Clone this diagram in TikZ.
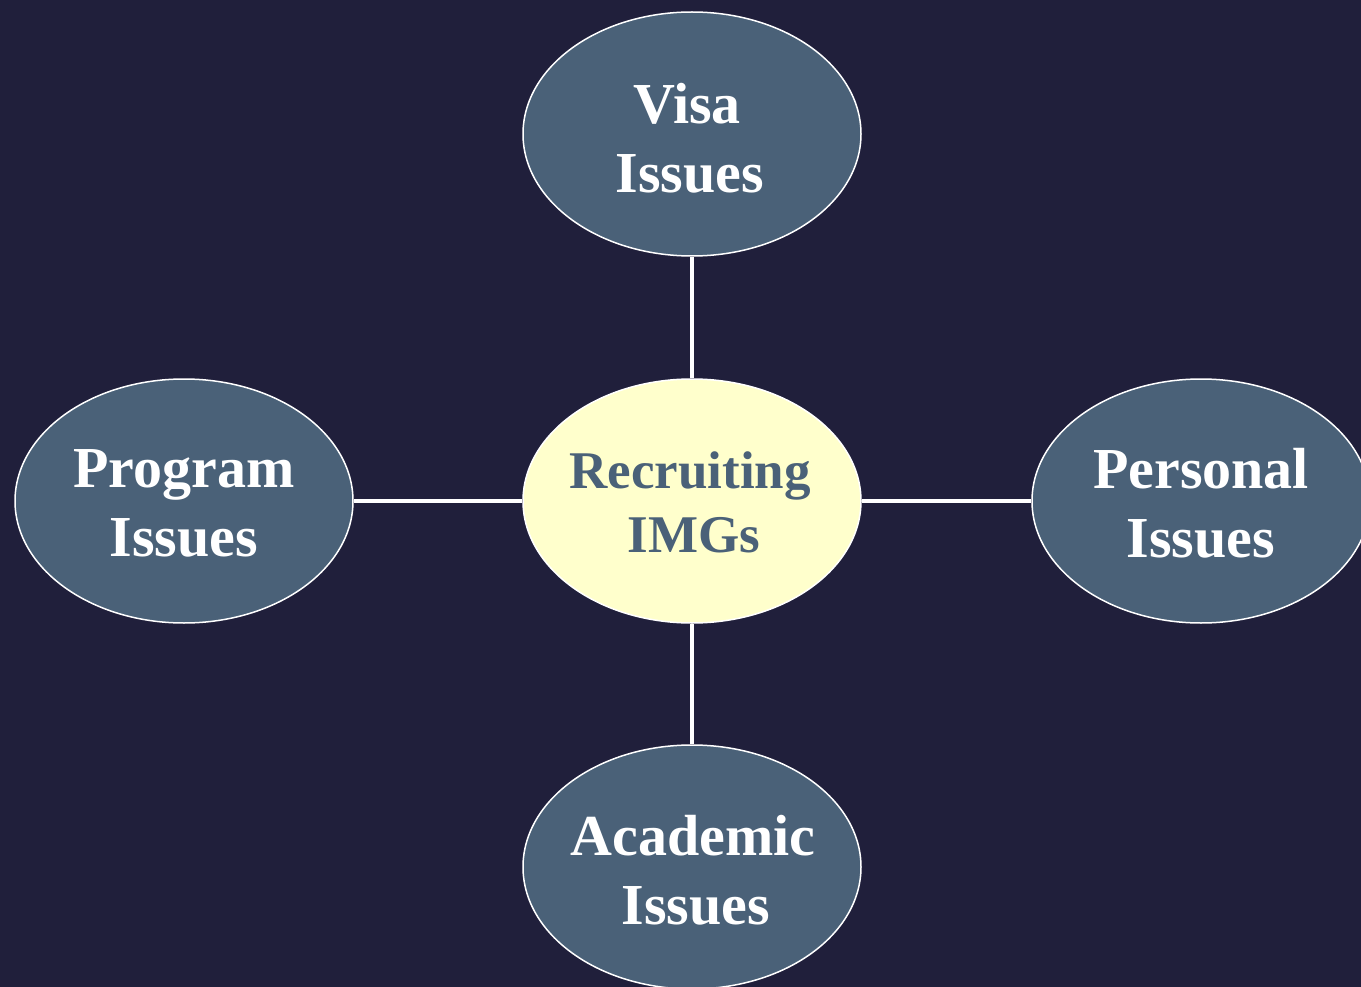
\documentclass[tikz,border=0pt]{standalone}
\usepackage{fontspec}
\setmainfont{Liberation Serif}
\usetikzlibrary{shapes.geometric}
\definecolor{bg}{HTML}{201F3B}
\definecolor{slate}{HTML}{4A6178}
\definecolor{cream}{HTML}{FFFFCC}
\tikzset{
  blob/.style={ellipse, draw=white, line width=1.5pt, fill=slate, minimum width=338pt, minimum height=244pt, inner sep=0pt},
  hub/.style={blob, fill=cream},
  lbl/.style={align=center, font=\fontsize{58}{69}\selectfont\bfseries, text=white},
  hublbl/.style={align=center, font=\fontsize{53}{64}\selectfont\bfseries, text=slate},
  link/.style={draw=white, line width=4.5pt}
}
\begin{document}
\begin{tikzpicture}[x=1pt,y=-1pt]
\useasboundingbox[fill=bg] (0,0) rectangle (1361,987);
\node[hub] (c) at (692,501) {};
\node[blob] (v) at (692,134) {};
\node[blob] (p) at (184,501) {};
\node[blob] (r) at (1201,501) {};
\node[blob] (a) at (692,867) {};
\draw[link] (c) -- (v);
\draw[link] (c) -- (p);
\draw[link] (c) -- (r);
\draw[link] (c) -- (a);
\node[hublbl] (ct) at (690,502) {Recruiting\\\hspace*{8pt}IMGs};
\node[lbl] (vt) at (690,138) {Visa\hspace*{6pt}\\Issues};
\node[lbl] (pt) at (184,503) {Program\\Issues};
\node[lbl] (rt) at (1201,503) {Personal\\Issues};
\node[lbl] (at) at (696,870) {Academic\hspace*{6pt}\\Issues};
\end{tikzpicture}
\end{document}
